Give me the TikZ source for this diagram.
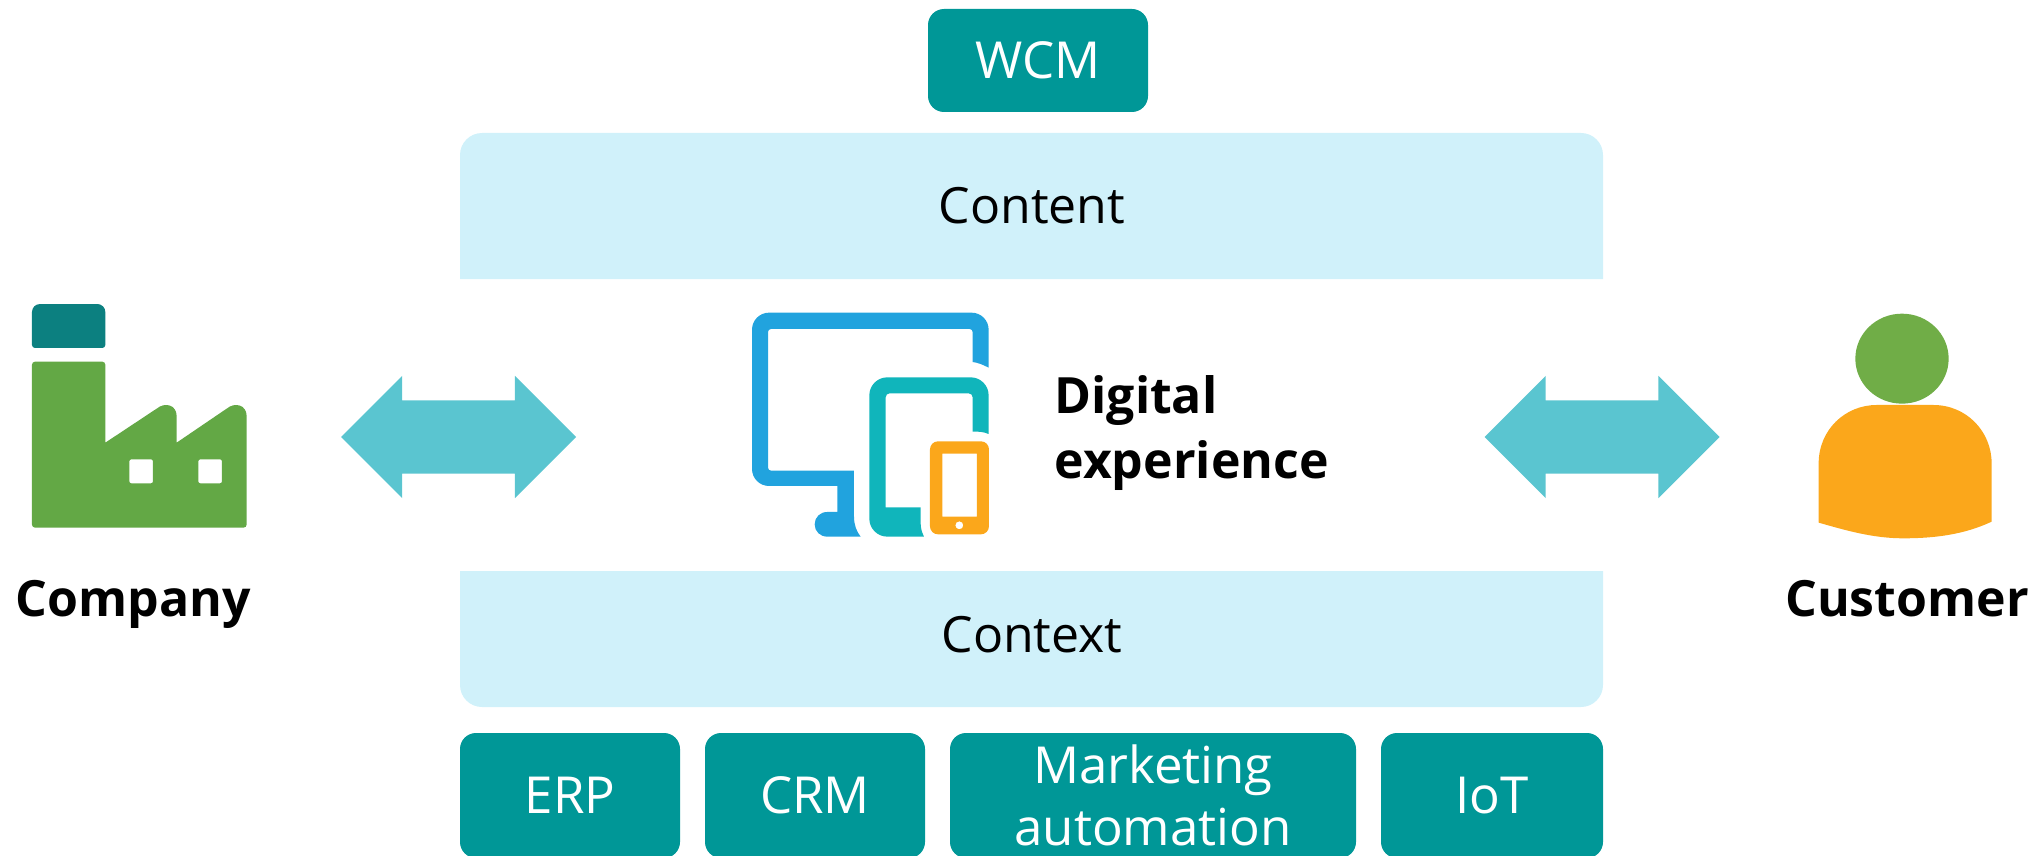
\documentclass[tikz,border=0pt]{standalone}
\usepackage{fontspec}
\setmainfont{Open Sans}
\usetikzlibrary{shapes.arrows}
\definecolor{boxteal}{HTML}{009797}
\definecolor{bandblue}{HTML}{D0F1FA}
\definecolor{arrowblue}{HTML}{5AC5D0}
\definecolor{screenblue}{HTML}{21A3DE}
\definecolor{tabletteal}{HTML}{10B5BB}
\definecolor{phoneorange}{HTML}{FBA71B}
\definecolor{factorygreen}{HTML}{63A845}
\definecolor{chimneyteal}{HTML}{0C8080}
\definecolor{headgreen}{HTML}{70AD47}

\begin{document}
\begin{tikzpicture}[
    x=1pt, y=-1pt,
    tealbox/.style={
        rectangle, fill=boxteal, text=white, rounded corners=16pt, inner sep=0pt,
        font=\fontsize{51}{62}\selectfont, align=center, minimum height=125pt
      },
    bandlabel/.style={font=\fontsize{50}{60}\selectfont},
    boldlabel/.style={font=\fontsize{50}{65}\selectfont\bfseries, align=left},
    bigarrow/.style={
        double arrow, fill=arrowblue, inner xsep=0pt, inner ysep=36.5pt, minimum height=235pt,
        double arrow tip angle=90, double arrow head extend=24.5pt
      },
  ]
  \useasboundingbox (0,0) rectangle (2043,856);

  % bands
  \fill[bandblue] (460,279) [rounded corners=22pt] -- (460,133) -- (1603,133) [sharp corners] -- (1603,279) -- cycle;
  \fill[bandblue] (460,571) [rounded corners=22pt] -- (460,707) -- (1603,707) [sharp corners] -- (1603,571) -- cycle;
  \node[bandlabel](content) at (1032,206) {Content};
  \node[bandlabel](context) at (1032,635) {Context};

  % teal boxes
  \node[tealbox, minimum width=220pt, minimum height=103pt](wcm) at (1038,60.5) {WCM};
  \node[tealbox, minimum width=220pt](erp) at (570,795.5) {ERP};
  \node[tealbox, minimum width=220pt](crm) at (815,795.5) {CRM};
  \node[tealbox, minimum width=406pt](marketing) at (1153,795.5) {Marketing\\automation};
  \node[tealbox, minimum width=222pt](iot) at (1492,795.5) {IoT};

  % arrows
  \node[bigarrow](leftarrow) at (458.5,437) {};
  \node[bigarrow](rightarrow) at (1602,437) {};

  % devices
  \begin{scope}[shift={(740,300)}, x=0.3333pt, y=-0.3333pt]
    \fill[screenblue] (746,203) -- (746,90) [rounded corners=17pt] -- (746,38) -- (36,38) -- (36,558) [sharp corners] -- (292,558) -- (292,636) -- (262,636)
      .. controls (240,636) and (224,652) .. (224,673) .. controls (224,694) and (240,710) .. (262,710) -- (362,710)
      .. controls (350,695) and (342,675) .. (342,650) -- (342,512) [rounded corners=3pt] -- (84,512) -- (84,87) -- (698,87) [sharp corners] -- (698,186)
      .. controls (715,188) and (730,195) .. (746,203) -- cycle;
    \fill[tabletteal] (746,402) -- (746,285) [rounded corners=18pt] -- (746,232) -- (388,232) -- (388,710) [sharp corners] -- (552,710)
      .. controls (546,697) and (542,685) .. (542,670) -- (542,622) -- (437,622) [rounded corners=4pt] -- (437,280) -- (698,280) [sharp corners] -- (698,395)
      .. controls (715,394) and (732,396) .. (746,402) -- cycle;
    \fill[phoneorange, even odd rule] [rounded corners=8pt] (570,424) rectangle (747,703) [sharp corners] (607,461) rectangle (711,650) (658,676) circle (12);
  \end{scope}
  \node[boldlabel, anchor=west](digital) at (1051,433) {Digital\\experience};

  % company
  \begin{scope}[shift={(0,290)}, x=0.3333pt, y=-0.3333pt]
    \fill[chimneyteal] (96,108) [rounded corners=8pt] -- (96,42) -- (316,42) [rounded corners=3pt] -- (316,174) -- (96,174) [sharp corners] -- cycle;
    \fill[factorygreen, even odd rule] [rounded corners=3pt] (96,215) -- (316,215) [sharp corners] -- (316,458) -- (470,356)
      .. controls (495,335) and (530,345) .. (530,378) -- (530,458) -- (680,356)
      .. controls (705,335) and (740,345) .. (740,378) [rounded corners=3pt] -- (740,713) -- (96,713) -- cycle
      [rounded corners=2pt] (388,508) rectangle (459,580) (595,508) rectangle (666,580);
  \end{scope}
  \node[boldlabel, anchor=base](company) at (133,616) {Company};

  % customer
  \begin{scope}[shift={(1790,300)}, x=0.3333pt, y=-0.3333pt]
    \fill[phoneorange] (86,668) -- (86,490) .. controls (86,390) and (165,315) .. (260,315) -- (430,315)
      .. controls (530,315) and (605,395) .. (605,490) -- (605,665) .. controls (520,705) and (430,715) .. (340,715) .. controls (250,715) and (170,692) .. (86,668) -- cycle;
    \fill[headgreen] (336,176) ellipse [x radius=140, y radius=135];
  \end{scope}
  \node[boldlabel, anchor=base](customer) at (1907,616) {Customer};
\end{tikzpicture}
\end{document}
